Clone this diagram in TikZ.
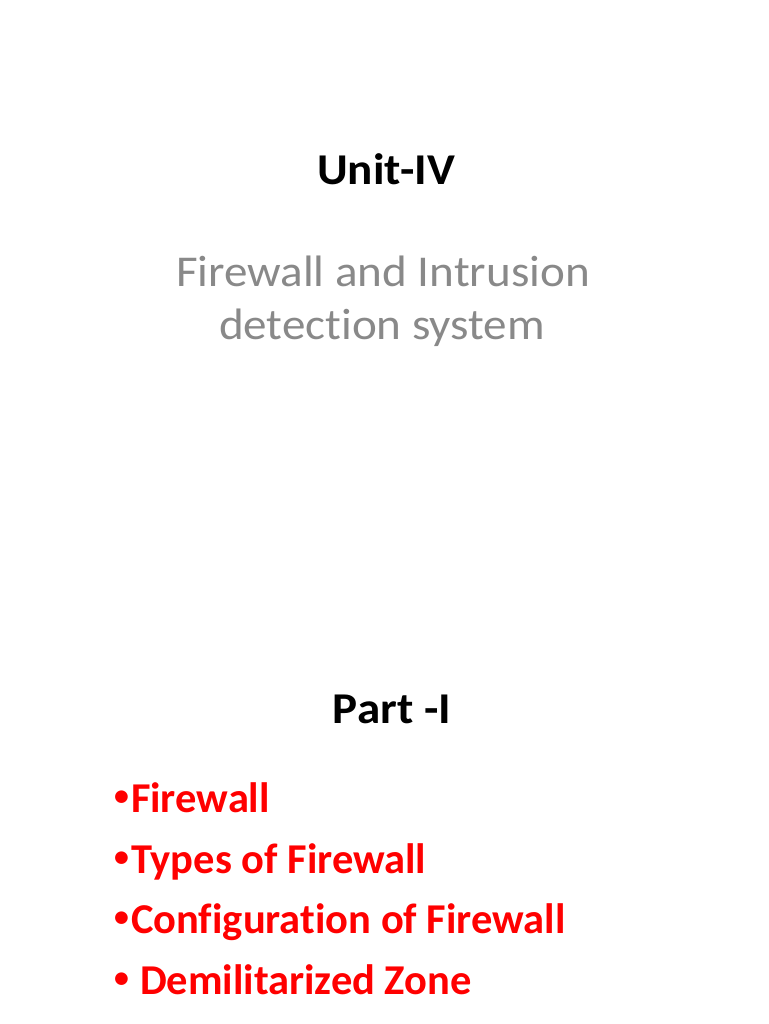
\documentclass[tikz,border=0pt]{standalone}
\usepackage{fontspec}
\setmainfont{Carlito}[Ligatures=NoCommon]
\newfontfamily\widefont{Carlito}[Ligatures=NoCommon,FakeStretch=1.07]
\definecolor{subgray}{HTML}{898989}
\definecolor{bulletred}{HTML}{FF0000}
\newcommand{\smallbullet}{\raisebox{7pt}{\scalebox{0.7}{\textbullet}}\hspace{2pt}}
\begin{document}
\begin{tikzpicture}[x=1pt,y=1pt,
  heading/.style={inner sep=0pt,anchor=base,font=\widefont\fontsize{44}{53}\selectfont\bfseries},
  subtitle/.style={inner sep=0pt,anchor=base,align=center,text=subgray,font=\widefont\fontsize{44}{53}\selectfont},
  bulletitem/.style={inner sep=0pt,anchor=base west,text=bulletred,font=\fontsize{42.5}{50}\selectfont\bfseries}]
\useasboundingbox[fill=white] (0,0) rectangle (768,1024);

% title block
\node[heading] (unit) at (386,839) {Unit-IV};
\node[subtitle] (sub1) at (383,737) {Firewall and Intrusion};
\node[subtitle] (sub2) at (382,684) {detection system};

% part heading and its topics
\node[heading] (part) at (392,300) {Part -I};

\foreach \y/\txt [count=\i] in {211/{\smallbullet Firewall},150/{\smallbullet Types of Firewall},90/{\smallbullet Configuration of Firewall},29/{\smallbullet\hspace{9pt}Demilitarized Zone}}
\node[bulletitem] (item\i) at (114,\y) {\txt};

\end{tikzpicture}
\end{document}
